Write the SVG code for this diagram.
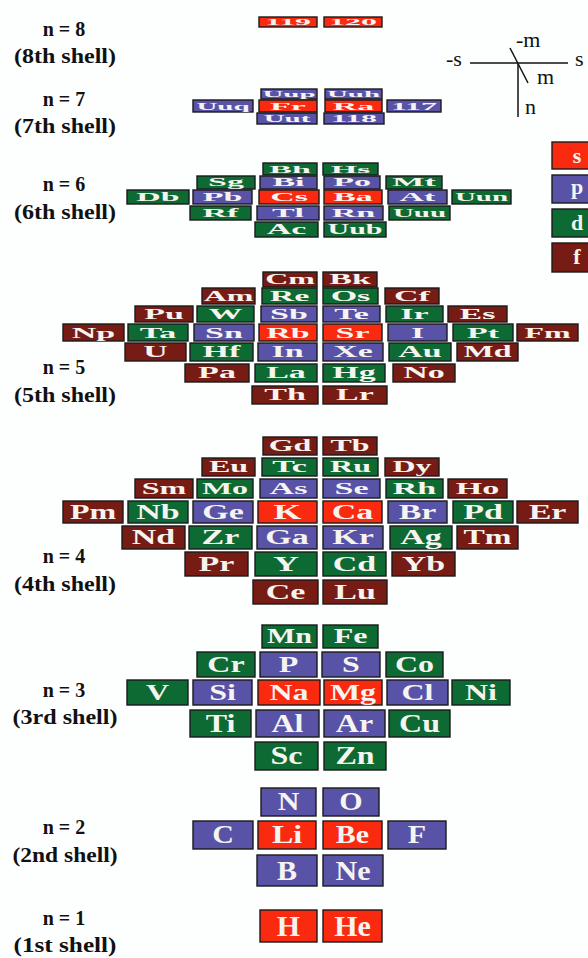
<svg xmlns="http://www.w3.org/2000/svg" width="588" height="958" viewBox="0 0 588 958">
<style>
rect.s{fill:#fa2a10}
rect.p{fill:#5853a6}
rect.d{fill:#0c6a32}
rect.f{fill:#761c14}
rect.s,rect.p,rect.d,rect.f{stroke:#1a1a1a;stroke-width:1.4}
rect.bg{fill:#fdfefe;stroke:none}
text.t{font-family:"Liberation Serif","Times New Roman",serif;font-weight:bold;font-size:20px;fill:#f6f4f0;text-anchor:middle}
text.lbl{font-family:"Liberation Serif","Times New Roman",serif;font-weight:bold;font-size:20px;fill:#111;text-anchor:middle}
text.ax{font-family:"Liberation Serif","Times New Roman",serif;font-size:22px;fill:#111}
text.lg{font-family:"Liberation Serif","Times New Roman",serif;font-weight:bold;font-size:22px;fill:#f6f4f0;text-anchor:middle}
line{stroke:#111;stroke-width:1.5}
</style>
<rect class="bg" x="0" y="0" width="588" height="958"/>

<g id="labels">
<text class="lbl" x="64" y="36">n = 8</text><text class="lbl" x="65" y="63" textLength="102" lengthAdjust="spacingAndGlyphs">(8th shell)</text>
<text class="lbl" x="64" y="106">n = 7</text><text class="lbl" x="65" y="133" textLength="102" lengthAdjust="spacingAndGlyphs">(7th shell)</text>
<text class="lbl" x="64" y="191">n = 6</text><text class="lbl" x="65" y="219" textLength="102" lengthAdjust="spacingAndGlyphs">(6th shell)</text>
<text class="lbl" x="64" y="374">n = 5</text><text class="lbl" x="65" y="402" textLength="102" lengthAdjust="spacingAndGlyphs">(5th shell)</text>
<text class="lbl" x="64" y="563">n = 4</text><text class="lbl" x="65" y="591" textLength="102" lengthAdjust="spacingAndGlyphs">(4th shell)</text>
<text class="lbl" x="64" y="697">n = 3</text><text class="lbl" x="65" y="724" textLength="105" lengthAdjust="spacingAndGlyphs">(3rd shell)</text>
<text class="lbl" x="64" y="834">n = 2</text><text class="lbl" x="65" y="862" textLength="105" lengthAdjust="spacingAndGlyphs">(2nd shell)</text>
<text class="lbl" x="64" y="925">n = 1</text><text class="lbl" x="65" y="952" textLength="103" lengthAdjust="spacingAndGlyphs">(1st shell)</text>
</g>

<g id="axes">
<line x1="470" y1="63" x2="568" y2="63"/>
<line x1="510" y1="48" x2="528" y2="83"/>
<line x1="518" y1="64" x2="518" y2="117"/>
<text class="ax" x="446" y="66">-s</text>
<text class="ax" x="575" y="66">s</text>
<text class="ax" x="516" y="47">-m</text>
<text class="ax" x="537" y="84">m</text>
<text class="ax" x="525" y="114">n</text>
</g>

<g id="legend">
<g id="lg-s"><rect class="s" x="552" y="142" width="50" height="27"/><text class="lg" x="577" y="163">s</text></g>
<g id="lg-p"><rect class="p" x="552" y="175" width="50" height="28"/><text class="lg" x="577" y="194">p</text></g>
<g id="lg-d"><rect class="d" x="552" y="209" width="50" height="28"/><text class="lg" x="577" y="230">d</text></g>
<g id="lg-f"><rect class="f" x="552" y="243" width="50" height="29"/><text class="lg" x="577" y="264">f</text></g>
</g>

<g id="shell8">
<g id="e119"><rect class="s" x="259" y="17" width="58" height="10"/><text class="t" transform="translate(288,25) scale(1.6,0.455)">119</text></g>
<g id="e120"><rect class="s" x="324" y="17" width="58" height="10"/><text class="t" transform="translate(353,25) scale(1.6,0.455)">120</text></g>
</g>

<g id="shell7">
<g id="eUup"><rect class="p" x="261" y="89" width="56" height="10"/><text class="t" transform="translate(289,97) scale(1.45,0.455)">Uup</text></g>
<g id="eUuh"><rect class="p" x="325" y="89" width="57" height="10"/><text class="t" transform="translate(353.5,97) scale(1.45,0.455)">Uuh</text></g>
<g id="eUuq"><rect class="p" x="193" y="100" width="60" height="12"/><text class="t" transform="translate(223,109.6) scale(1.45,0.546)">Uuq</text></g>
<g id="eFr"><rect class="s" x="259" y="100" width="58" height="12"/><text class="t" transform="translate(288,109.6) scale(1.7,0.546)">Fr</text></g>
<g id="eRa"><rect class="s" x="325" y="100" width="57" height="12"/><text class="t" transform="translate(353.5,109.6) scale(1.7,0.546)">Ra</text></g>
<g id="e117"><rect class="p" x="387" y="100" width="54" height="12"/><text class="t" transform="translate(414,109.6) scale(1.6,0.546)">117</text></g>
<g id="eUut"><rect class="p" x="257" y="113" width="60" height="11"/><text class="t" transform="translate(287,121.8) scale(1.45,0.5)">Uut</text></g>
<g id="e118"><rect class="p" x="324" y="113" width="60" height="11"/><text class="t" transform="translate(354,121.8) scale(1.6,0.5)">118</text></g>
</g>

<g id="shell6">
<g id="eBh"><rect class="d" x="263" y="163" width="54" height="12"/><text class="t" transform="translate(290,172.6) scale(1.7,0.546)">Bh</text></g>
<g id="eHs"><rect class="d" x="323" y="163" width="55" height="12"/><text class="t" transform="translate(350.5,172.6) scale(1.7,0.546)">Hs</text></g>
<g id="eSg"><rect class="d" x="197" y="176" width="58" height="13"/><text class="t" transform="translate(226,186.4) scale(1.7,0.59)">Sg</text></g>
<g id="eBi"><rect class="p" x="260" y="176" width="57" height="13"/><text class="t" transform="translate(288.5,186.4) scale(1.7,0.59)">Bi</text></g>
<g id="ePo"><rect class="p" x="324" y="176" width="56" height="13"/><text class="t" transform="translate(352,186.4) scale(1.7,0.59)">Po</text></g>
<g id="eMt"><rect class="d" x="386" y="176" width="56" height="13"/><text class="t" transform="translate(414,186.4) scale(1.7,0.59)">Mt</text></g>
<g id="eDb"><rect class="d" x="127" y="190" width="62" height="14"/><text class="t" transform="translate(158,201.2) scale(1.7,0.637)">Db</text></g>
<g id="ePb"><rect class="p" x="193" y="190" width="59" height="14"/><text class="t" transform="translate(222.5,201.2) scale(1.7,0.637)">Pb</text></g>
<g id="eCs"><rect class="s" x="259" y="190" width="60" height="14"/><text class="t" transform="translate(289,201.2) scale(1.7,0.637)">Cs</text></g>
<g id="eBa"><rect class="s" x="324" y="190" width="58" height="14"/><text class="t" transform="translate(353,201.2) scale(1.7,0.637)">Ba</text></g>
<g id="eAt"><rect class="p" x="388" y="190" width="59" height="14"/><text class="t" transform="translate(417.5,201.2) scale(1.7,0.637)">At</text></g>
<g id="eUun"><rect class="d" x="452" y="190" width="59" height="14"/><text class="t" transform="translate(481.5,201.2) scale(1.45,0.637)">Uun</text></g>
<g id="eRf"><rect class="d" x="190" y="206" width="61" height="14"/><text class="t" transform="translate(220.5,217.2) scale(1.7,0.637)">Rf</text></g>
<g id="eTl"><rect class="p" x="257" y="206" width="62" height="14"/><text class="t" transform="translate(288,217.2) scale(1.7,0.637)">Tl</text></g>
<g id="eRn"><rect class="p" x="324" y="206" width="59" height="14"/><text class="t" transform="translate(353.5,217.2) scale(1.7,0.637)">Rn</text></g>
<g id="eUuu"><rect class="d" x="389" y="206" width="61" height="14"/><text class="t" transform="translate(419.5,217.2) scale(1.45,0.637)">Uuu</text></g>
<g id="eAc"><rect class="d" x="255" y="222" width="63" height="15"/><text class="t" transform="translate(286.5,234) scale(1.7,0.68)">Ac</text></g>
<g id="eUub"><rect class="d" x="324" y="222" width="62" height="15"/><text class="t" transform="translate(355,234) scale(1.5,0.68)">Uub</text></g>
</g>

<g id="shell5">
<g id="eCm"><rect class="f" x="263" y="272" width="54" height="15"/><text class="t" transform="translate(290,284) scale(1.6,0.68)">Cm</text></g>
<g id="eBk"><rect class="f" x="323" y="272" width="54" height="15"/><text class="t" transform="translate(350,284) scale(1.7,0.68)">Bk</text></g>
<g id="eAm"><rect class="f" x="202" y="288" width="53" height="16"/><text class="t" transform="translate(228.5,300.8) scale(1.6,0.73)">Am</text></g>
<g id="eRe"><rect class="d" x="262" y="288" width="55" height="16"/><text class="t" transform="translate(289.5,300.8) scale(1.7,0.73)">Re</text></g>
<g id="eOs"><rect class="d" x="323" y="288" width="55" height="16"/><text class="t" transform="translate(350.5,300.8) scale(1.7,0.73)">Os</text></g>
<g id="eCf"><rect class="f" x="385" y="288" width="54" height="16"/><text class="t" transform="translate(412,300.8) scale(1.7,0.73)">Cf</text></g>
<g id="ePu"><rect class="f" x="135" y="306" width="58" height="16"/><text class="t" transform="translate(164,318.8) scale(1.7,0.73)">Pu</text></g>
<g id="eW"><rect class="d" x="197" y="306" width="57" height="16"/><text class="t" transform="translate(225.5,318.8) scale(1.7,0.73)">W</text></g>
<g id="eSb"><rect class="p" x="261" y="306" width="56" height="16"/><text class="t" transform="translate(289,318.8) scale(1.7,0.73)">Sb</text></g>
<g id="eTe"><rect class="p" x="323" y="306" width="57" height="16"/><text class="t" transform="translate(351.5,318.8) scale(1.7,0.73)">Te</text></g>
<g id="eIr"><rect class="d" x="386" y="306" width="57" height="16"/><text class="t" transform="translate(414.5,318.8) scale(1.7,0.73)">Ir</text></g>
<g id="eEs"><rect class="f" x="448" y="306" width="59" height="16"/><text class="t" transform="translate(477.5,318.8) scale(1.7,0.73)">Es</text></g>
<g id="eNp"><rect class="f" x="63" y="324" width="61" height="17"/><text class="t" transform="translate(93.5,337.6) scale(1.7,0.77)">Np</text></g>
<g id="eTa"><rect class="d" x="128" y="324" width="60" height="17"/><text class="t" transform="translate(158,337.6) scale(1.7,0.77)">Ta</text></g>
<g id="eSn"><rect class="p" x="194" y="324" width="60" height="17"/><text class="t" transform="translate(224,337.6) scale(1.7,0.77)">Sn</text></g>
<g id="eRb"><rect class="s" x="259" y="324" width="58" height="17"/><text class="t" transform="translate(288,337.6) scale(1.7,0.77)">Rb</text></g>
<g id="eSr"><rect class="s" x="323" y="324" width="59" height="17"/><text class="t" transform="translate(352.5,337.6) scale(1.7,0.77)">Sr</text></g>
<g id="eI"><rect class="p" x="388" y="324" width="59" height="17"/><text class="t" transform="translate(417.5,337.6) scale(1.7,0.77)">I</text></g>
<g id="ePt"><rect class="d" x="453" y="324" width="60" height="17"/><text class="t" transform="translate(483,337.6) scale(1.7,0.77)">Pt</text></g>
<g id="eFm"><rect class="f" x="517" y="324" width="61" height="17"/><text class="t" transform="translate(547.5,337.6) scale(1.6,0.77)">Fm</text></g>
<g id="eU"><rect class="f" x="125" y="343" width="61" height="18"/><text class="t" transform="translate(155.5,357.4) scale(1.7,0.82)">U</text></g>
<g id="eHf"><rect class="d" x="190" y="343" width="63" height="18"/><text class="t" transform="translate(221.5,357.4) scale(1.7,0.82)">Hf</text></g>
<g id="eIn"><rect class="p" x="258" y="343" width="59" height="18"/><text class="t" transform="translate(287.5,357.4) scale(1.7,0.82)">In</text></g>
<g id="eXe"><rect class="p" x="323" y="343" width="60" height="18"/><text class="t" transform="translate(353,357.4) scale(1.7,0.82)">Xe</text></g>
<g id="eAu"><rect class="d" x="389" y="343" width="62" height="18"/><text class="t" transform="translate(420,357.4) scale(1.7,0.82)">Au</text></g>
<g id="eMd"><rect class="f" x="457" y="343" width="61" height="18"/><text class="t" transform="translate(487.5,357.4) scale(1.6,0.82)">Md</text></g>
<g id="ePa"><rect class="f" x="185" y="364" width="64" height="18"/><text class="t" transform="translate(217,378.4) scale(1.7,0.82)">Pa</text></g>
<g id="eLa"><rect class="d" x="255" y="364" width="62" height="18"/><text class="t" transform="translate(286,378.4) scale(1.7,0.82)">La</text></g>
<g id="eHg"><rect class="d" x="323" y="364" width="62" height="18"/><text class="t" transform="translate(354,378.4) scale(1.7,0.82)">Hg</text></g>
<g id="eNo"><rect class="f" x="393" y="364" width="62" height="18"/><text class="t" transform="translate(424,378.4) scale(1.7,0.82)">No</text></g>
<g id="eTh"><rect class="f" x="252" y="386" width="66" height="18"/><text class="t" transform="translate(285,400.4) scale(1.7,0.82)">Th</text></g>
<g id="eLr"><rect class="f" x="323" y="386" width="64" height="18"/><text class="t" transform="translate(355,400.4) scale(1.7,0.82)">Lr</text></g>
</g>

<g id="shell4">
<g id="eGd"><rect class="f" x="263" y="437" width="54" height="18"/><text class="t" transform="translate(290,451.4) scale(1.6,0.82)">Gd</text></g>
<g id="eTb"><rect class="f" x="323" y="437" width="54" height="18"/><text class="t" transform="translate(350,451.4) scale(1.6,0.82)">Tb</text></g>
<g id="eEu"><rect class="f" x="202" y="458" width="53" height="18"/><text class="t" transform="translate(228.5,472.4) scale(1.6,0.82)">Eu</text></g>
<g id="eTc"><rect class="d" x="262" y="458" width="55" height="18"/><text class="t" transform="translate(289.5,472.4) scale(1.7,0.82)">Tc</text></g>
<g id="eRu"><rect class="d" x="323" y="458" width="55" height="18"/><text class="t" transform="translate(350.5,472.4) scale(1.6,0.82)">Ru</text></g>
<g id="eDy"><rect class="f" x="385" y="458" width="54" height="18"/><text class="t" transform="translate(412,472.4) scale(1.6,0.82)">Dy</text></g>
<g id="eSm"><rect class="f" x="135" y="479" width="58" height="19"/><text class="t" transform="translate(164,494.2) scale(1.6,0.86)">Sm</text></g>
<g id="eMo"><rect class="d" x="197" y="479" width="56" height="19"/><text class="t" transform="translate(225,494.2) scale(1.6,0.86)">Mo</text></g>
<g id="eAs"><rect class="p" x="260" y="479" width="57" height="19"/><text class="t" transform="translate(288.5,494.2) scale(1.7,0.86)">As</text></g>
<g id="eSe"><rect class="p" x="323" y="479" width="57" height="19"/><text class="t" transform="translate(351.5,494.2) scale(1.7,0.86)">Se</text></g>
<g id="eRh"><rect class="d" x="386" y="479" width="57" height="19"/><text class="t" transform="translate(414.5,494.2) scale(1.7,0.86)">Rh</text></g>
<g id="eHo"><rect class="f" x="448" y="479" width="59" height="19"/><text class="t" transform="translate(477.5,494.2) scale(1.7,0.86)">Ho</text></g>
<g id="ePm"><rect class="f" x="63" y="501" width="60" height="22"/><text class="t" transform="translate(93,518.6) scale(1.6,1.0)">Pm</text></g>
<g id="eNb"><rect class="d" x="128" y="501" width="60" height="22"/><text class="t" transform="translate(158,518.6) scale(1.7,1.0)">Nb</text></g>
<g id="eGe"><rect class="p" x="193" y="501" width="60" height="22"/><text class="t" transform="translate(223,518.6) scale(1.7,1.0)">Ge</text></g>
<g id="eK"><rect class="s" x="258" y="501" width="59" height="22"/><text class="t" transform="translate(287.5,518.6) scale(1.8,1.0)">K</text></g>
<g id="eCa"><rect class="s" x="323" y="501" width="59" height="22"/><text class="t" transform="translate(352.5,518.6) scale(1.7,1.0)">Ca</text></g>
<g id="eBr"><rect class="p" x="388" y="501" width="59" height="22"/><text class="t" transform="translate(417.5,518.6) scale(1.7,1.0)">Br</text></g>
<g id="ePd"><rect class="d" x="453" y="501" width="60" height="22"/><text class="t" transform="translate(483,518.6) scale(1.7,1.0)">Pd</text></g>
<g id="eEr"><rect class="f" x="517" y="501" width="61" height="22"/><text class="t" transform="translate(547.5,518.6) scale(1.7,1.0)">Er</text></g>
<g id="eNd"><rect class="f" x="122" y="526" width="63" height="23"/><text class="t" transform="translate(153.5,544.4) scale(1.7,1.05)">Nd</text></g>
<g id="eZr"><rect class="d" x="189" y="526" width="63" height="23"/><text class="t" transform="translate(220.5,544.4) scale(1.7,1.05)">Zr</text></g>
<g id="eGa"><rect class="p" x="257" y="526" width="60" height="23"/><text class="t" transform="translate(287,544.4) scale(1.7,1.05)">Ga</text></g>
<g id="eKr"><rect class="p" x="323" y="526" width="60" height="23"/><text class="t" transform="translate(353,544.4) scale(1.7,1.05)">Kr</text></g>
<g id="eAg"><rect class="d" x="390" y="526" width="62" height="23"/><text class="t" transform="translate(421,544.4) scale(1.7,1.05)">Ag</text></g>
<g id="eTm"><rect class="f" x="457" y="526" width="61" height="23"/><text class="t" transform="translate(487.5,544.4) scale(1.6,1.05)">Tm</text></g>
<g id="ePr"><rect class="f" x="185" y="552" width="63" height="24"/><text class="t" transform="translate(216.5,571.2) scale(1.7,1.09)">Pr</text></g>
<g id="eY"><rect class="d" x="255" y="552" width="62" height="24"/><text class="t" transform="translate(286,571.2) scale(1.8,1.09)">Y</text></g>
<g id="eCd"><rect class="d" x="323" y="552" width="63" height="24"/><text class="t" transform="translate(354.5,571.2) scale(1.7,1.09)">Cd</text></g>
<g id="eYb"><rect class="f" x="392" y="552" width="63" height="24"/><text class="t" transform="translate(423.5,571.2) scale(1.7,1.09)">Yb</text></g>
<g id="eCe"><rect class="f" x="253" y="580" width="65" height="24"/><text class="t" transform="translate(285.5,599.2) scale(1.7,1.09)">Ce</text></g>
<g id="eLu"><rect class="f" x="323" y="580" width="64" height="24"/><text class="t" transform="translate(355,599.2) scale(1.7,1.09)">Lu</text></g>
</g>

<g id="shell3">
<g id="eMn"><rect class="d" x="262" y="625" width="55" height="23"/><text class="t" transform="translate(289.5,643.4) scale(1.5,1.05)">Mn</text></g>
<g id="eFe"><rect class="d" x="323" y="625" width="55" height="23"/><text class="t" transform="translate(350.5,643.4) scale(1.6,1.05)">Fe</text></g>
<g id="eCr"><rect class="d" x="197" y="652" width="58" height="25"/><text class="t" transform="translate(226,672) scale(1.6,1.14)">Cr</text></g>
<g id="eP"><rect class="p" x="260" y="652" width="57" height="25"/><text class="t" transform="translate(288.5,672) scale(1.6,1.14)">P</text></g>
<g id="eS"><rect class="p" x="322" y="652" width="58" height="25"/><text class="t" transform="translate(351,672) scale(1.6,1.14)">S</text></g>
<g id="eCo"><rect class="d" x="386" y="652" width="57" height="25"/><text class="t" transform="translate(414.5,672) scale(1.6,1.14)">Co</text></g>
<g id="eV"><rect class="d" x="127" y="680" width="61" height="25"/><text class="t" transform="translate(157.5,700) scale(1.6,1.14)">V</text></g>
<g id="eSi"><rect class="p" x="193" y="680" width="59" height="25"/><text class="t" transform="translate(222.5,700) scale(1.6,1.14)">Si</text></g>
<g id="eNa"><rect class="s" x="258" y="680" width="62" height="25"/><text class="t" transform="translate(289,700) scale(1.6,1.14)">Na</text></g>
<g id="eMg"><rect class="s" x="324" y="680" width="58" height="25"/><text class="t" transform="translate(353,700) scale(1.6,1.14)">Mg</text></g>
<g id="eCl"><rect class="p" x="387" y="680" width="61" height="25"/><text class="t" transform="translate(417.5,700) scale(1.6,1.14)">Cl</text></g>
<g id="eNi"><rect class="d" x="452" y="680" width="58" height="25"/><text class="t" transform="translate(481,700) scale(1.6,1.14)">Ni</text></g>
<g id="eTi"><rect class="d" x="190" y="710" width="61" height="27"/><text class="t" transform="translate(220.5,731.6) scale(1.6,1.23)">Ti</text></g>
<g id="eAl"><rect class="p" x="256" y="710" width="63" height="27"/><text class="t" transform="translate(287.5,731.6) scale(1.6,1.23)">Al</text></g>
<g id="eAr"><rect class="p" x="324" y="710" width="61" height="27"/><text class="t" transform="translate(354.5,731.6) scale(1.6,1.23)">Ar</text></g>
<g id="eCu"><rect class="d" x="389" y="710" width="61" height="27"/><text class="t" transform="translate(419.5,731.6) scale(1.6,1.23)">Cu</text></g>
<g id="eSc"><rect class="d" x="255" y="742" width="63" height="28"/><text class="t" transform="translate(286.5,764.4) scale(1.6,1.27)">Sc</text></g>
<g id="eZn"><rect class="d" x="324" y="742" width="62" height="28"/><text class="t" transform="translate(355,764.4) scale(1.6,1.27)">Zn</text></g>
</g>

<g id="shell2">
<g id="eN"><rect class="p" x="261" y="788" width="55" height="28"/><text class="t" transform="translate(288.5,810.4) scale(1.5,1.27)">N</text></g>
<g id="eO"><rect class="p" x="323" y="788" width="56" height="28"/><text class="t" transform="translate(351,810.4) scale(1.5,1.27)">O</text></g>
<g id="eC"><rect class="p" x="193" y="821" width="60" height="28"/><text class="t" transform="translate(223,843.4) scale(1.5,1.27)">C</text></g>
<g id="eLi"><rect class="s" x="258" y="821" width="58" height="28"/><text class="t" transform="translate(287,843.4) scale(1.6,1.27)">Li</text></g>
<g id="eBe"><rect class="s" x="323" y="821" width="59" height="28"/><text class="t" transform="translate(352.5,843.4) scale(1.5,1.27)">Be</text></g>
<g id="eF"><rect class="p" x="388" y="821" width="58" height="28"/><text class="t" transform="translate(417,843.4) scale(1.5,1.27)">F</text></g>
<g id="eB"><rect class="p" x="257" y="855" width="60" height="31"/><text class="t" transform="translate(287,879.8) scale(1.5,1.41)">B</text></g>
<g id="eNe"><rect class="p" x="323" y="855" width="60" height="31"/><text class="t" transform="translate(353,879.8) scale(1.5,1.41)">Ne</text></g>
</g>

<g id="shell1">
<g id="eH"><rect class="s" x="260" y="910" width="57" height="32"/><text class="t" transform="translate(288.5,935.6) scale(1.5,1.46)">H</text></g>
<g id="eHe"><rect class="s" x="323" y="910" width="59" height="32"/><text class="t" transform="translate(352.5,935.6) scale(1.5,1.46)">He</text></g>
</g>

<g id="connectors"></g>
</svg>
